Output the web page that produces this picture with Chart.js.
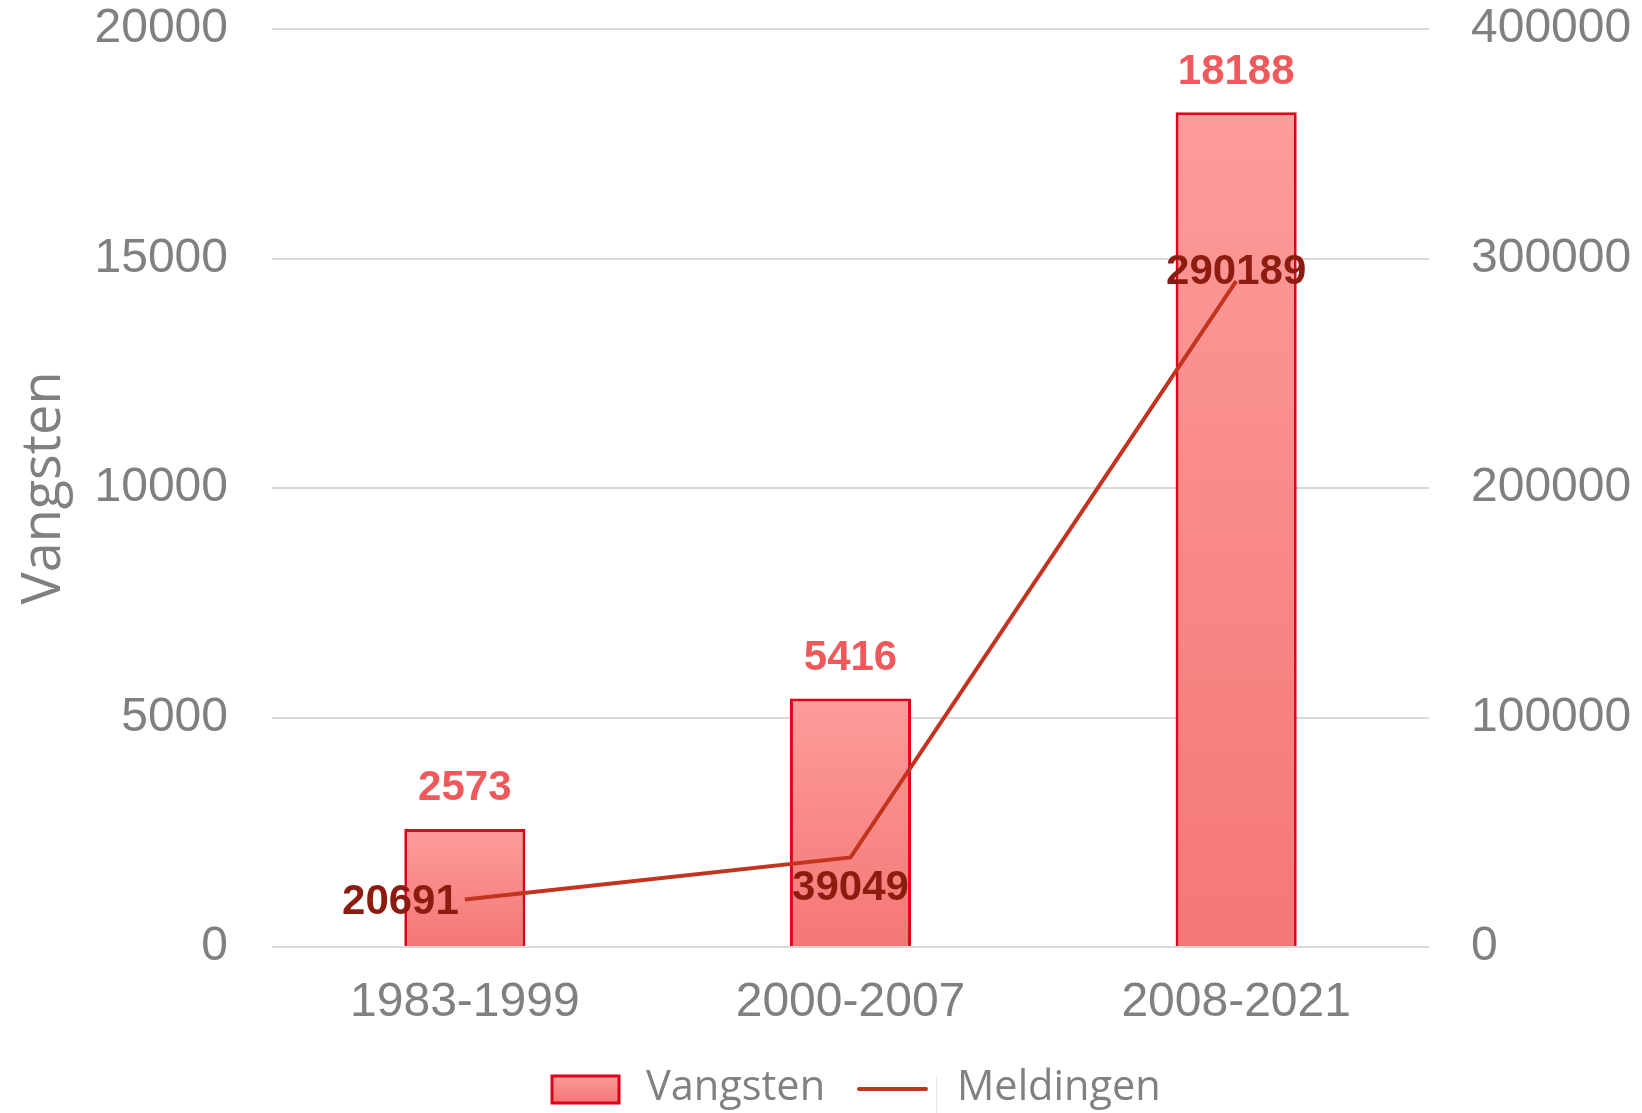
<!DOCTYPE html>
<html><head><meta charset="utf-8">
<script src="https://cdn.jsdelivr.net/npm/chart.js@4/dist/chart.umd.min.js"></script>
<style>html,body{margin:0;padding:0;background:#fff;}#wrap{width:1642px;height:1113px;}</style>
</head><body><div id="wrap"><canvas id="c"></canvas></div>
<script>
const categories = ['1983-1999', '2000-2007', '2008-2021'];
const vangsten = [2573, 5416, 18188];
const meldingen = [20691, 39049, 290189];
const leftTicks = [0, 5000, 10000, 15000, 20000];
const rightTicks = [0, 100000, 200000, 300000, 400000];
const seriesNames = ['Vangsten', 'Meldingen'];

const TICK_FONT = {family: '"Liberation Sans", Arial, sans-serif', size: 48};
const GRAY = '#808080';
const BAR_FILL = '#f88a89', BAR_BORDER = '#e0001a', LINE_COLOR = '#c3341f';

function barGradient(ctx) {
  const chart = ctx.chart;
  if (!chart.chartArea || ctx.type !== 'data') return BAR_FILL;
  const y = chart.scales.y;
  const top = y.getPixelForValue(vangsten[ctx.dataIndex]);
  const base = y.getPixelForValue(0);
  const g = chart.ctx.createLinearGradient(0, top, 0, base);
  g.addColorStop(0, '#fc9c9b');
  g.addColorStop(1, '#f47775');
  return g;
}

const labelPlugin = {
  id: 'valueLabels',
  afterDatasetsDraw(chart) {
    const c = chart.ctx;
    c.save();
    c.font = 'bold 42px "Liberation Sans", Arial, sans-serif';
    c.textBaseline = 'middle';
    const bars = chart.getDatasetMeta(0).data;
    c.fillStyle = '#f0595c';
    c.textAlign = 'center';
    bars.forEach((el, i) => c.fillText(String(vangsten[i]), el.x, el.y - 40));
    const pts = chart.getDatasetMeta(1).data;
    c.fillStyle = '#8c1c10';
    const place = [['right', -6, 3], ['center', 0, 31], ['center', 0, -9]];
    pts.forEach((el, i) => {
      c.textAlign = place[i][0];
      c.fillText(String(meldingen[i]), el.x + place[i][1], el.y + place[i][2]);
    });
    c.restore();
  }
};

const legendPlugin = {
  id: 'customLegend',
  afterDraw(chart) {
    const c = chart.ctx;
    const cy = 1089;
    c.save();
    const g = c.createLinearGradient(0, cy - 13, 0, cy + 13);
    g.addColorStop(0, '#fc9c9b'); g.addColorStop(1, '#f47775');
    c.fillStyle = g;
    c.fillRect(552, cy - 13, 67, 27);
    c.strokeStyle = BAR_BORDER; c.lineWidth = 3;
    c.strokeRect(552, cy - 13, 67, 27);
    c.strokeStyle = LINE_COLOR; c.lineWidth = 4; c.lineCap = 'round';
    c.beginPath(); c.moveTo(859, cy); c.lineTo(926, cy); c.stroke();
    c.strokeStyle = '#e3e3e3'; c.lineWidth = 1; c.lineCap = 'butt';
    c.beginPath(); c.moveTo(936.5, cy - 12); c.lineTo(936.5, 1113); c.stroke();
    c.fillStyle = GRAY;
    c.font = '41.5px "Open Sans", sans-serif';
    c.textBaseline = 'middle';
    c.textAlign = 'left';
    c.fillText(seriesNames[0], 646, cy - 1);
    c.fillText(seriesNames[1], 957, cy - 1);
    c.restore();
  }
};

new Chart(document.getElementById('c'), {
  data: {
    labels: categories,
    datasets: [
      {type: 'bar', label: seriesNames[0], data: vangsten, yAxisID: 'y',
       backgroundColor: barGradient, borderColor: BAR_BORDER, borderWidth: 3,
       borderSkipped: 'bottom', categoryPercentage: 1, barPercentage: 0.314, order: 2},
      {type: 'line', label: seriesNames[1], data: meldingen, yAxisID: 'y1',
       borderColor: LINE_COLOR, backgroundColor: LINE_COLOR, borderWidth: 4,
       pointRadius: 0, tension: 0, order: 1}
    ]
  },
  options: {
    responsive: true, maintainAspectRatio: false, animation: false,
    layout: {padding: {top: 29, left: 0, right: 0, bottom: 0}},
    plugins: {tooltip: {enabled: false}, legend: {display: false}},
    scales: {
      x: {
        grid: {display: false, drawTicks: false}, border: {display: false},
        afterFit(s) { s.height = 1113 - 947; },
        ticks: {color: GRAY, font: TICK_FONT, padding: 27, maxRotation: 0}
      },
      y: {
        position: 'left', min: 0, max: 20000,
        afterBuildTicks(s) { s.ticks = leftTicks.map(v => ({value: v})); },
        afterFit(s) { s.width = 272; s.paddingTop = 0; s.paddingBottom = 0; },
        grid: {color: '#d9d9d9', lineWidth: 2, drawTicks: false},
        border: {display: false},
        ticks: {color: GRAY, font: TICK_FONT, padding: 44, callback: v => String(v)},
        title: {display: true, text: seriesNames[0], color: GRAY,
                font: {family: '"Open Sans", sans-serif', size: 54}, padding: {top: 12, bottom: 0}}
      },
      y1: {
        position: 'right', min: 0, max: 400000,
        afterBuildTicks(s) { s.ticks = rightTicks.map(v => ({value: v})); },
        afterFit(s) { s.width = 213; s.paddingTop = 0; s.paddingBottom = 0; },
        grid: {display: false, drawTicks: false}, border: {display: false},
        ticks: {color: GRAY, font: TICK_FONT, padding: 42, callback: v => String(v)}
      }
    }
  },
  plugins: [labelPlugin, legendPlugin]
});
</script>
</body></html>
